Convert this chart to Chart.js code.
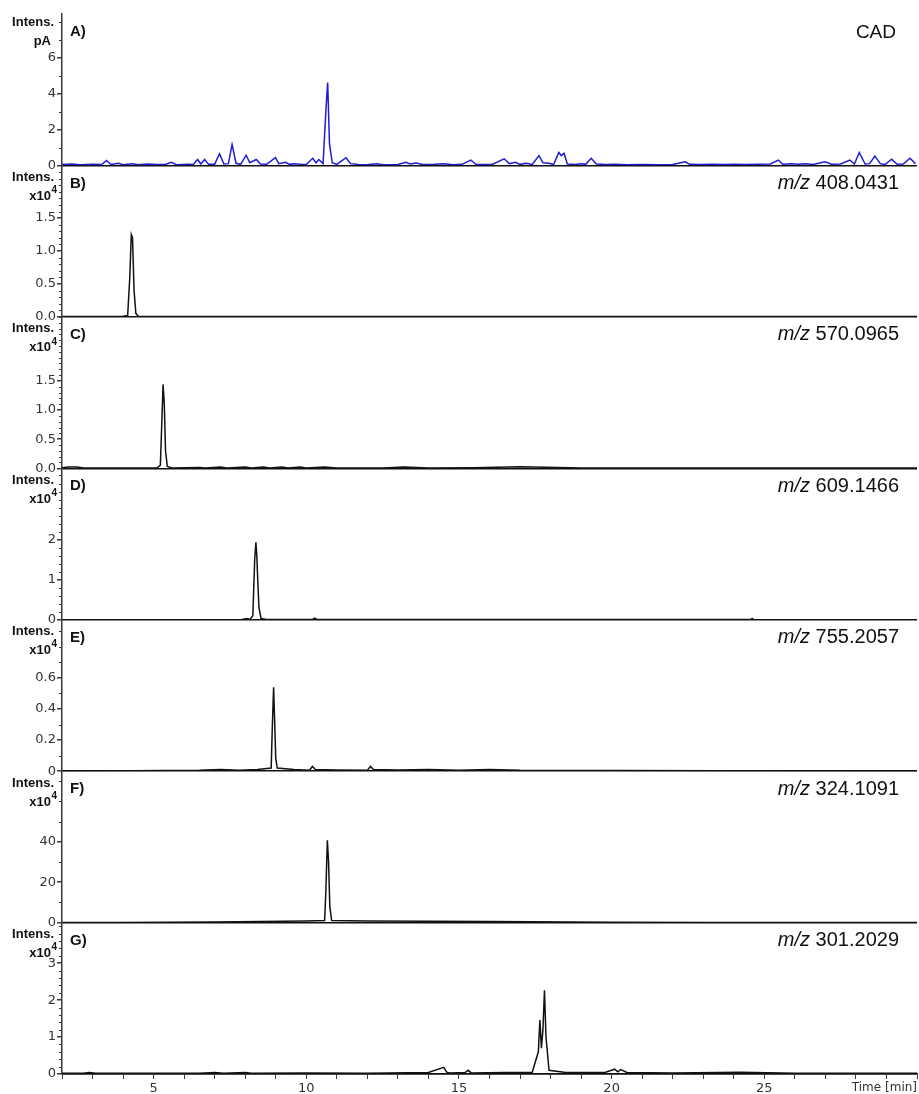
<!DOCTYPE html>
<html>
<head>
<meta charset="utf-8">
<script src="https://cdn.jsdelivr.net/npm/chart.js@4"></script>
<style>
  html, body { margin: 0; padding: 0; background: #fff; }
</style>
</head>
<body>
<canvas id="chromChart" width="919" height="1094"></canvas>
<script>
// retention time (min) / intensity, one pair of arrays per trace
var timeA = [2.0, 2.3, 2.6, 3.0, 3.3, 3.46, 3.6, 3.85, 4.0, 4.3, 4.5, 4.8, 5.1, 5.4, 5.58, 5.75, 6.1, 6.3, 6.44, 6.55, 6.67, 6.8, 7.0, 7.16, 7.3, 7.45, 7.57, 7.7, 7.85, 8.03, 8.15, 8.36, 8.5, 8.7, 8.99, 9.1, 9.32, 9.45, 9.6, 9.8, 10.0, 10.21, 10.32, 10.41, 10.55, 10.65, 10.70, 10.76, 10.85, 11.0, 11.3, 11.45, 11.7, 12.0, 12.3, 12.5, 13.0, 13.26, 13.4, 13.6, 13.8, 14.2, 14.5, 14.8, 15.1, 15.39, 15.55, 15.8, 16.1, 16.48, 16.65, 16.85, 17.0, 17.2, 17.4, 17.62, 17.75, 17.95, 18.1, 18.27, 18.35, 18.44, 18.55, 18.8, 19.0, 19.15, 19.33, 19.5, 19.8, 20.1, 20.5, 21.0, 21.5, 22.0, 22.41, 22.55, 22.9, 23.3, 23.7, 24.0, 24.4, 24.8, 25.2, 25.46, 25.6, 25.9, 26.1, 26.35, 26.6, 26.99, 27.2, 27.5, 27.8, 27.95, 28.11, 28.3, 28.45, 28.62, 28.8, 28.95, 29.17, 29.35, 29.55, 29.77, 29.95];
var cadA = [0.05, 0.08, 0.04, 0.06, 0.05, 0.28, 0.05, 0.12, 0.04, 0.10, 0.04, 0.08, 0.05, 0.07, 0.18, 0.04, 0.06, 0.05, 0.33, 0.08, 0.33, 0.06, 0.07, 0.65, 0.08, 0.10, 1.17, 0.12, 0.06, 0.57, 0.15, 0.33, 0.08, 0.06, 0.43, 0.10, 0.17, 0.06, 0.10, 0.07, 0.05, 0.40, 0.15, 0.33, 0.10, 3.30, 4.63, 1.20, 0.15, 0.06, 0.43, 0.10, 0.05, 0.04, 0.10, 0.04, 0.05, 0.17, 0.08, 0.14, 0.05, 0.06, 0.10, 0.04, 0.06, 0.30, 0.06, 0.05, 0.07, 0.37, 0.10, 0.17, 0.06, 0.12, 0.05, 0.55, 0.15, 0.12, 0.05, 0.72, 0.55, 0.68, 0.08, 0.05, 0.10, 0.06, 0.40, 0.08, 0.05, 0.06, 0.04, 0.05, 0.04, 0.05, 0.20, 0.06, 0.05, 0.06, 0.05, 0.06, 0.05, 0.06, 0.08, 0.30, 0.07, 0.10, 0.06, 0.09, 0.05, 0.20, 0.07, 0.08, 0.30, 0.08, 0.72, 0.08, 0.10, 0.52, 0.10, 0.05, 0.35, 0.06, 0.08, 0.40, 0.10];

var timeB = [2.0, 4.0, 4.15, 4.22, 4.27, 4.31, 4.36, 4.42, 4.5, 30.0];
var eicB = [0.005, 0.008, 0.02, 0.60, 1.25, 1.20, 0.40, 0.05, 0.01, 0.005];

var timeC = [2.0, 2.2, 2.5, 2.7, 5.1, 5.22, 5.27, 5.31, 5.35, 5.39, 5.45, 5.6, 6.5, 6.7, 7.2, 7.4, 8.0, 8.2, 8.6, 8.8, 9.2, 9.4, 9.8, 10.0, 10.6, 11.0, 12.5, 13.2, 14.0, 15.5, 17.0, 19.0, 30.0];
var eicC = [0.010, 0.020, 0.020, 0.005, 0.005, 0.05, 0.80, 1.44, 1.10, 0.30, 0.03, 0.005, 0.015, 0.005, 0.020, 0.005, 0.020, 0.005, 0.020, 0.005, 0.020, 0.005, 0.020, 0.005, 0.020, 0.005, 0.005, 0.020, 0.005, 0.010, 0.025, 0.005, 0.005];

var timeD = [2.0, 7.9, 8.05, 8.15, 8.25, 8.31, 8.35, 8.38, 8.41, 8.45, 8.52, 8.7, 10.2, 10.27, 10.35, 24.55, 24.6, 24.65, 30.0];
var eicD = [0.0, 0.005, 0.03, 0.005, 0.10, 1.50, 1.93, 1.60, 1.00, 0.30, 0.03, 0.005, 0.005, 0.04, 0.005, 0.005, 0.03, 0.005, 0.0];

var timeE = [2.0, 6.5, 7.2, 7.8, 8.4, 8.85, 8.89, 8.93, 8.96, 9.0, 9.05, 9.6, 10.1, 10.2, 10.3, 11.0, 12.0, 12.1, 12.2, 13.0, 14.0, 15.0, 16.0, 17.0, 30.0];
var eicE = [0.0, 0.005, 0.01, 0.005, 0.01, 0.02, 0.30, 0.54, 0.35, 0.08, 0.02, 0.01, 0.005, 0.03, 0.01, 0.008, 0.005, 0.03, 0.01, 0.008, 0.01, 0.005, 0.01, 0.005, 0.0];

var timeF = [2.0, 4.0, 7.0, 10.0, 10.6, 10.64, 10.69, 10.73, 10.77, 10.83, 12.0, 16.0, 20.0, 23.0, 30.0];
var eicF = [0.0, 0.0, 0.3, 0.8, 1.0, 15.0, 40.7, 30.0, 8.0, 1.0, 0.8, 0.5, 0.2, 0.0, 0.0];

var timeG = [2.0, 2.7, 2.9, 3.1, 6.5, 7.0, 7.3, 8.0, 8.2, 10.0, 12.0, 14.0, 14.5, 14.6, 14.7, 15.2, 15.3, 15.4, 16.5, 17.4, 17.6, 17.65, 17.7, 17.75, 17.8, 17.85, 17.95, 18.5, 19.8, 20.0, 20.1, 20.2, 20.3, 20.5, 22.0, 24.2, 26.0, 30.0];
var eicG = [0.02, 0.02, 0.04, 0.02, 0.02, 0.04, 0.02, 0.04, 0.02, 0.03, 0.02, 0.04, 0.18, 0.05, 0.03, 0.04, 0.10, 0.03, 0.04, 0.05, 0.60, 1.46, 0.70, 1.20, 2.27, 1.00, 0.10, 0.04, 0.05, 0.10, 0.13, 0.06, 0.12, 0.04, 0.03, 0.05, 0.02, 0.02];

var panelIds = ['A', 'B', 'C', 'D', 'E', 'F', 'G'];
var panelTimes = [timeA, timeB, timeC, timeD, timeE, timeF, timeG];
var panelValues = [cadA, eicB, eicC, eicD, eicE, eicF, eicG];
var panelTags = ['CAD', '408.0431', '570.0965', '609.1466', '755.2057', '324.1091', '301.2029'];
var yUnits = ['pA', 'x10', 'x10', 'x10', 'x10', 'x10', 'x10'];
var yMax = [8.45, 2.3, 2.6, 3.78, 0.975, 75, 4.1];
var yMajor = [[0, 2, 4, 6], [0, 0.5, 1, 1.5], [0, 0.5, 1, 1.5], [0, 1, 2], [0, 0.2, 0.4, 0.6], [0, 20, 40], [0, 1, 2, 3]];
var yMinor = [1, 0.1, 0.1, 0.2, 0.1, 10, 0.2];
var yOneDecimal = [false, true, true, false, false, false, false];
var timeLabels = [5, 10, 15, 20, 25];

var tickFont = { family: 'DejaVu Sans', size: 13 };
var axisGrey = '#3a3a3a';

var datasets = panelIds.map(function (id, i) {
    return {
        label: id,
        yAxisID: 'y' + id,
        data: panelTimes[i].map(function (t, k) { return { x: t, y: panelValues[i][k] }; }),
        borderColor: i === 0 ? '#1c1cd2' : '#111',
        borderWidth: 1.5,
        pointRadius: 0,
        tension: 0,
        fill: false
    };
});

var scales = {
    x: {
        type: 'linear',
        position: 'bottom',
        min: 2,
        max: 30,
        border: { color: '#111', width: 1.5 },
        grid: { drawOnChartArea: false, tickLength: 5, tickColor: axisGrey },
        ticks: {
            stepSize: 1,
            autoSkip: false,
            maxRotation: 0,
            padding: 2,
            color: '#333',
            font: tickFont,
            callback: function (v) { return timeLabels.indexOf(v) >= 0 ? String(v) : ''; }
        },
        afterFit: function (s) { s.height = 20; }
    }
};

panelIds.forEach(function (id, i) {
    scales['y' + id] = {
        type: 'linear',
        position: 'left',
        stack: 'panels',
        stackWeight: 1,
        weight: 10 - i,
        min: 0,
        max: yMax[i],
        border: { color: axisGrey, width: 1.5 },
        grid: {
            color: function (c) { return c.tick && c.tick.value === 0 ? '#111' : 'rgba(0,0,0,0)'; },
            lineWidth: 1.5,
            tickColor: axisGrey,
            tickLength: 5
        },
        ticks: {
            autoSkip: false,
            padding: 1,
            color: '#333',
            font: tickFont,
            callback: function (v) { return yOneDecimal[i] ? v.toFixed(1) : String(v); }
        },
        afterBuildTicks: function (s) {
            s.ticks = yMajor[i].map(function (v) { return { value: v }; });
        },
        afterFit: function (s) { s.width = 62; }
    };
});

// minor ticks, axis headings and trace labels
var panelDecor = {
    id: 'panelDecor',
    afterDraw: function (chart) {
        var ctx = chart.ctx;
        var area = chart.chartArea;
        ctx.save();
        panelIds.forEach(function (id, i) {
            var s = chart.scales['y' + id];
            ctx.strokeStyle = axisGrey;
            ctx.lineWidth = 1;
            for (var k = 1; k * yMinor[i] <= yMax[i] + 1e-9; k++) {
                var v = +(k * yMinor[i]).toFixed(4);
                if (yMajor[i].indexOf(v) >= 0) continue;
                var py = Math.round(s.getPixelForValue(v)) + 0.5;
                ctx.beginPath();
                ctx.moveTo(s.right - 3, py);
                ctx.lineTo(s.right, py);
                ctx.stroke();
            }

            var top = s.top;
            var y1 = i === 0 ? top + 8 : top + 12;
            ctx.fillStyle = '#111';
            ctx.textBaseline = 'middle';
            ctx.textAlign = 'right';
            ctx.font = 'bold 13px "Liberation Sans", Arial, sans-serif';
            ctx.fillText('Intens.', 54, y1);
            if (yUnits[i] === 'pA') {
                ctx.fillText('pA', 51, y1 + 19);
            } else {
                ctx.font = 'bold 10px "Liberation Sans", Arial, sans-serif';
                ctx.fillText('4', 57, y1 + 13);
                var w4 = ctx.measureText('4').width;
                ctx.font = 'bold 13px "Liberation Sans", Arial, sans-serif';
                ctx.fillText('x10', 57 - w4 - 0.5, y1 + 19);
            }

            ctx.textAlign = 'left';
            ctx.font = 'bold 15px "Liberation Sans", Arial, sans-serif';
            ctx.fillText(id + ')', 70, top + 18);

            ctx.textAlign = 'right';
            if (i === 0) {
                ctx.font = '19px "Liberation Sans", Arial, sans-serif';
                ctx.fillText(panelTags[i], area.right - 21, top + 19);
            } else {
                var right = area.right - 18;
                var num = ' ' + panelTags[i];
                ctx.font = '20px "Liberation Sans", Arial, sans-serif';
                ctx.fillText(num, right, top + 18);
                var wn = ctx.measureText(num).width;
                ctx.font = 'italic 20px "Liberation Sans", Arial, sans-serif';
                ctx.fillText('m/z', right - wn, top + 18);
            }
        });

        var xs = chart.scales.x;
        ctx.fillStyle = '#333';
        ctx.textAlign = 'right';
        ctx.textBaseline = 'top';
        ctx.font = '12px "DejaVu Sans"';
        ctx.fillText('Time [min]', area.right, xs.top + 8);
        ctx.restore();
    }
};

new Chart(document.getElementById('chromChart').getContext('2d'), {
    type: 'line',
    data: { datasets: datasets },
    options: {
        responsive: false,
        animation: false,
        layout: { padding: { top: 14, right: 1, bottom: 0, left: 0 } },
        plugins: { legend: { display: false }, tooltip: { enabled: false } },
        scales: scales
    },
    plugins: [panelDecor]
});
</script>
</body>
</html>
